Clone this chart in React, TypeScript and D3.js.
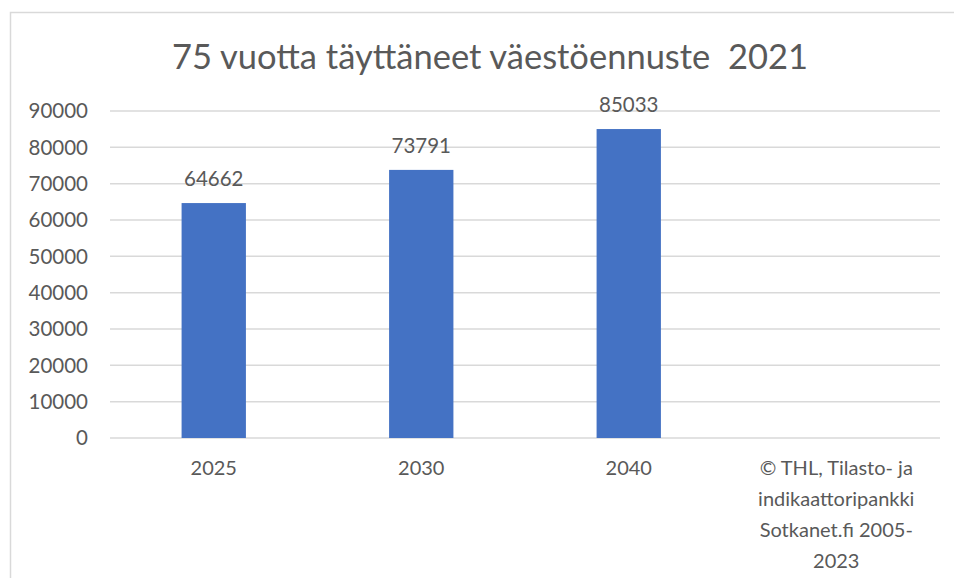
import React from "react";
import * as d3 from "d3";

const categories = ["2025", "2030", "2040", "© THL, Tilasto- ja|indikaattoripankki|Sotkanet.fi 2005-|2023"];
const values: (number | null)[] = [64662, 73791, 85033, null];
const yTicks = [0, 10000, 20000, 30000, 40000, 50000, 60000, 70000, 80000, 90000];
const title = "75 vuotta täyttäneet väestöennuste  2021";

export default function App() {
  const W = 954, H = 578;
  const left = 110, right = 940, top = 111, bottom = 438;
  const x = d3.scaleBand<string>().domain(categories).range([left, right]).paddingInner(0.69).paddingOuter(0.345);
  const y = d3.scaleLinear().domain([0, 90000]).range([bottom, top]);
  const font = "Lato, 'Open Sans', sans-serif";
  const txt = "#595959";
  return (
    <svg width={W} height={H} style={{ position: "absolute", left: 0, top: 0, background: "#fff" }} fontFamily={font}>
      <rect x={10.5} y={12.5} width={1000} height={700} fill="#fff" stroke="#d9d9d9" strokeWidth={1.5} />
      <text x={490} y={69} textAnchor="middle" fontSize={34.5} fill={txt} style={{ whiteSpace: "pre" }}>{title}</text>
      {yTicks.map((t) => (
        <g key={t}>
          <line x1={left} x2={right} y1={y(t)} y2={y(t)} stroke="#d9d9d9" strokeWidth={1.5} />
          <text x={88} y={y(t)} dy="0.35em" textAnchor="end" fontSize={20.5} fill={txt}>{t}</text>
        </g>
      ))}
      {categories.map((c, i) => {
        const v = values[i];
        const bx = x(c)!;
        const cx = bx + x.bandwidth() / 2;
        const lines = c.split("|");
        return (
          <g key={c}>
            {v != null && (
              <>
                <rect x={bx} y={y(v)} width={x.bandwidth()} height={y(0) - y(v)} fill="#4472C4" />
                <text x={cx} y={y(v) - 17} textAnchor="middle" fontSize={20.5} fill={txt}>{v}</text>
              </>
            )}
            {lines.map((l, j) => (
              <text key={j} x={cx} y={475 + j * 31} textAnchor="middle" fontSize={20} fill={txt}>{l}</text>
            ))}
          </g>
        );
      })}
    </svg>
  );
}
